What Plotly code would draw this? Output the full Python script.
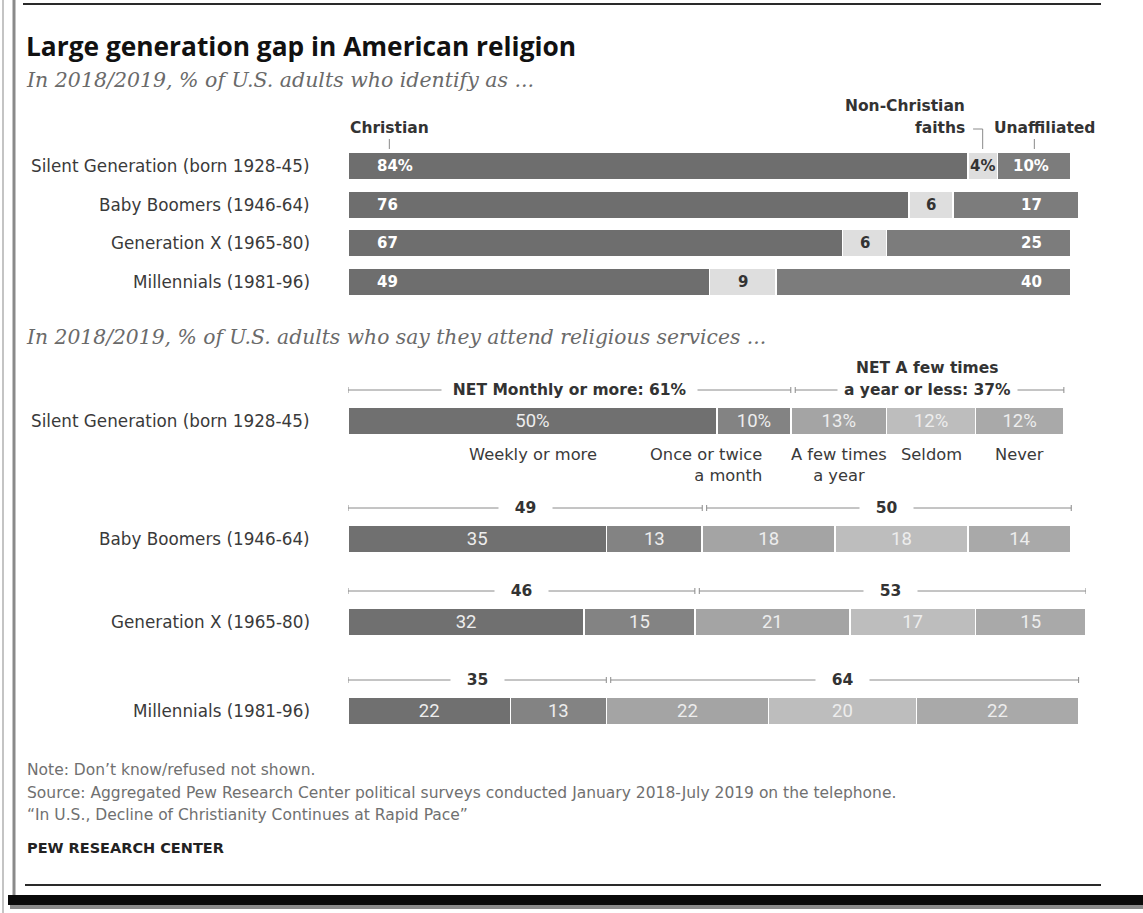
import plotly.graph_objects as go

W, H = 1143, 913

# ---------------- data ----------------
generations = ["Silent Generation (born 1928-45)", "Baby Boomers (1946-64)",
               "Generation X (1965-80)", "Millennials (1981-96)"]
christian = [84, 76, 67, 49]
non_christian = [4, 6, 6, 9]
unaffiliated = [10, 17, 25, 40]

attend_names = ["Weekly or more", "Once or twice<br>a month", "A few times<br>a year", "Seldom", "Never"]
weekly = [50, 35, 32, 22]
monthly = [10, 13, 15, 13]
few_times = [13, 18, 21, 22]
seldom = [12, 18, 17, 20]
never = [12, 14, 15, 22]
net_monthly = [61, 49, 46, 35]
net_yearly = [37, 50, 53, 64]

title = "Large generation gap in American religion"
subtitle1 = "In 2018/2019, % of U.S. adults who identify as ..."
subtitle2 = "In 2018/2019, % of U.S. adults who say they attend religious services ..."
notes = ["Note: Don\u2019t know/refused not shown.",
         "Source: Aggregated Pew Research Center political surveys conducted January 2018-July 2019 on the telephone.",
         "\u201cIn U.S., Decline of Christianity Continues at Rapid Pace\u201d"]
credit = "PEW RESEARCH CENTER"

# ---------------- styles ----------------
def px(x):
    return x / W

def py(y):
    return 1 - y / H

SANS = "DejaVu Sans"
BOLDF = "DejaVu Sans"
SERIF = "DejaVu Serif"
X_DOM = [px(348), px(1086)]

top_colors = ["#6e6e6e", "#dedede", "#7c7c7c"]
bot_colors = ["#707070", "#838383", "#a4a4a4", "#bdbdbd", "#a9a9a9"]

fig = go.Figure()
annotations = []
shapes = []


def ann(**kw):
    d = dict(showarrow=False, xanchor="center", yanchor="middle")
    d.update(kw)
    annotations.append(d)


label_font = dict(family=SANS, size=16.8, color="#3a3a3a")
hdr_font = dict(family=BOLDF, size=15.5, color="#333333")

# ---------------- top chart ----------------
top_series = [christian, non_christian, unaffiliated]
for vals, col in zip(top_series, top_colors):
    fig.add_trace(go.Bar(
        x=vals, y=generations, orientation="h", width=0.727,
        marker=dict(color=col, line=dict(color="white", width=1.5)),
        xaxis="x", yaxis="y", hoverinfo="skip", showlegend=False))

for i, g in enumerate(generations):
    suf = "%" if i == 0 else ""
    ann(x=0, y=g, xref="x", yref="y", xanchor="left", xshift=27,
        text=f"<b>{christian[i]}{suf}</b>", font=dict(family=BOLDF, size=15, color="white"))
    ann(x=christian[i] + non_christian[i] / 2, y=g, xref="x", yref="y",
        text=f"<b>{non_christian[i]}{suf}</b>", font=dict(family=BOLDF, size=15, color="#333333"))
    ann(x=92.6, y=g, xref="x", yref="y",
        text=f"<b>{unaffiliated[i]}{suf}</b>", font=dict(family=BOLDF, size=15, color="white"))
    ann(x=px(312), y=g, xref="paper", yref="y", xanchor="right", text=g, font=label_font)

# header labels of top chart
nc_x = christian[0] + non_christian[0] / 2
un_x = christian[0] + non_christian[0] + unaffiliated[0] / 2
ann(x=5.6, y=py(128), xref="x", yref="paper", text="<b>Christian</b>", font=hdr_font)
ann(x=px(967), y=py(106), xref="paper", yref="paper", xanchor="right", text="<b>Non-Christian</b>", font=hdr_font)
ann(x=px(967), y=py(128), xref="paper", yref="paper", xanchor="right", text="<b>faiths</b>", font=hdr_font)
ann(x=un_x, y=py(128), xref="x", yref="paper", xshift=10, text="<b>Unaffiliated</b>", font=hdr_font)

line_grey = dict(color="#8a8a8a", width=1)
shapes += [
    dict(type="line", xref="x", yref="paper", x0=5.6, x1=5.6, y0=py(139), y1=py(149), line=line_grey),
    dict(type="line", xref="x", yref="paper", x0=un_x, x1=un_x, y0=py(139), y1=py(149), line=line_grey),
    dict(type="line", xref="x", yref="paper", x0=nc_x, x1=nc_x, y0=py(129), y1=py(149), line=line_grey),
    dict(type="line", xref="x", yref="paper", x0=nc_x - 1.3, x1=nc_x, y0=py(129), y1=py(129), line=line_grey),
]

# ---------------- bottom chart ----------------
row_tops = [407, 525, 608, 697]
bar_h = 28
bot_series = [weekly, monthly, few_times, seldom, never]
layout_axes = {}
nf = dict(family=BOLDF, size=15.5, color="#333333")
for i, g in enumerate(generations):
    xa = f"x{i + 2}"
    ya = f"y{i + 2}"
    suf = "%" if i == 0 else ""
    for s, (vals, col) in enumerate(zip(bot_series, bot_colors)):
        fig.add_trace(go.Bar(
            x=[vals[i]], y=[0], orientation="h", width=1,
            marker=dict(color=col, line=dict(color="white", width=1.5)),
            text=[f"{vals[i]}{suf}"], textposition="inside", insidetextanchor="middle",
            textangle=0, constraintext="none",
            textfont=dict(family="Roboto", size=18.5, color="#ededed"),
            xaxis=xa, yaxis=ya, hoverinfo="skip", showlegend=False))
    top = row_tops[i]
    layout_axes[f"xaxis{i + 2}"] = dict(domain=X_DOM, range=[0, 100], visible=False, fixedrange=True,
                                        anchor=ya)
    layout_axes[f"yaxis{i + 2}"] = dict(domain=[py(top + bar_h), py(top)], range=[-0.5, 0.5],
                                        visible=False, fixedrange=True, anchor=xa)
    ann(x=px(312), y=py(top + bar_h / 2), xref="paper", yref="paper", xanchor="right", text=g, font=label_font)
    # NET brackets
    ly = py(top - 17)
    split = weekly[i] + monthly[i]
    total = split + few_times[i] + seldom[i] + never[i]
    for a, b in [(0, split), (split + 0.6, total)]:
        shapes.append(dict(type="line", xref=xa, yref="paper", x0=a, x1=b, y0=ly, y1=ly, line=line_grey))
        for e in (a, b):
            shapes.append(dict(type="line", xref=xa, yref="paper", x0=e, x1=e,
                               y0=py(top - 20), y1=py(top - 14), line=line_grey))
    if i == 0:
        ann(x=split / 2, y=ly, xref=xa, yref="paper", bgcolor="white", font=nf,
            text=f"\u00a0\u00a0<b>NET Monthly or more: {net_monthly[i]}%</b>\u00a0\u00a0")
        ann(x=(split + total) / 2, y=ly, xref=xa, yref="paper", bgcolor="white", font=nf,
            text=f"\u00a0<b>a year or less: {net_yearly[i]}%</b>\u00a0")
        ann(x=(split + total) / 2, y=py(top - 39), xref=xa, yref="paper", font=nf,
            text="<b>NET A few times</b>")
    else:
        ann(x=split / 2, y=ly, xref=xa, yref="paper", bgcolor="white", font=nf,
            text=f"\u00a0\u00a0\u00a0<b>{net_monthly[i]}</b>\u00a0\u00a0\u00a0")
        ann(x=(split + total) / 2, y=ly, xref=xa, yref="paper", bgcolor="white", font=nf,
            text=f"\u00a0\u00a0\u00a0<b>{net_yearly[i]}</b>\u00a0\u00a0\u00a0")

# category labels under the Silent Generation row
cat_font = dict(family=SANS, size=16.3, color="#3a3a3a")
cum = 0
label_y = py(443)
for s, (vals, name) in enumerate(zip(bot_series, attend_names)):
    mid = cum + vals[0] / 2
    if s == 1:
        ann(x=cum + vals[0], y=label_y, xref="x2", yref="paper", xanchor="right", yanchor="top",
            xshift=-27, align="right", text=name, font=cat_font)
    else:
        ann(x=mid, y=label_y, xref="x2", yref="paper", yanchor="top", text=name, font=cat_font)
    cum += vals[0]

# ---------------- titles & notes ----------------
ann(x=px(24), y=py(46), xref="paper", yref="paper", xanchor="left",
    text=f"<b>{title}</b>", font=dict(family="Open Sans", size=26.3, color="#111111"))
ann(x=px(24), y=py(80), xref="paper", yref="paper", xanchor="left",
    text=f"<i>{subtitle1}</i>", font=dict(family=SERIF, size=20.5, color="#6a6a6a"))
ann(x=px(24), y=py(337), xref="paper", yref="paper", xanchor="left",
    text=f"<i>{subtitle2}</i>", font=dict(family=SERIF, size=20.3, color="#6a6a6a"))
for k, t in enumerate(notes):
    ann(x=px(25), y=py(770 + 22.5 * k), xref="paper", yref="paper", xanchor="left",
        text=t, font=dict(family=SANS, size=15.5, color="#707070"))
ann(x=px(25), y=py(848), xref="paper", yref="paper", xanchor="left",
    text=f"<b>{credit}</b>", font=dict(family=BOLDF, size=14.5, color="#222222"))

# ---------------- frame ----------------
shapes += [
    dict(type="line", xref="paper", yref="paper", x0=px(23), x1=px(1101), y0=py(4), y1=py(4),
         line=dict(color="#2a2a2a", width=2)),
    dict(type="line", xref="paper", yref="paper", x0=px(25), x1=px(1101), y0=py(885), y1=py(885),
         line=dict(color="#2a2a2a", width=2)),
    dict(type="line", xref="paper", yref="paper", x0=px(3), x1=px(3), y0=py(0), y1=py(913),
         line=dict(color="#b0b0b0", width=1.5)),
    dict(type="line", xref="paper", yref="paper", x0=px(14), x1=px(14), y0=py(0), y1=py(896),
         line=dict(color="#8a8a8a", width=3)),
    dict(type="rect", xref="paper", yref="paper", x0=px(8), x1=px(1143), y0=py(905), y1=py(895),
         fillcolor="#0a0a0a", line=dict(width=0)),
    dict(type="rect", xref="paper", yref="paper", x0=px(10), x1=px(1143), y0=py(909), y1=py(905),
         fillcolor="#8a8a8a", line=dict(width=0)),
]

fig.update_layout(
    width=W, height=H, margin=dict(l=0, r=0, t=0, b=0),
    paper_bgcolor="white", plot_bgcolor="white", barmode="stack", bargap=0,
    xaxis=dict(domain=X_DOM, range=[0, 100], visible=False, fixedrange=True, anchor="y"),
    yaxis=dict(domain=[py(301), py(147)], range=[3.5, -0.5], type="category",
               categoryorder="array", categoryarray=generations,
               visible=False, fixedrange=True, anchor="x"),
    annotations=annotations, shapes=shapes, showlegend=False,
    **layout_axes,
)

fig.write_html("out.html", config={"displayModeBar": False, "staticPlot": True},
               post_script="document.body.style.margin='0';document.body.style.overflow='hidden';")
